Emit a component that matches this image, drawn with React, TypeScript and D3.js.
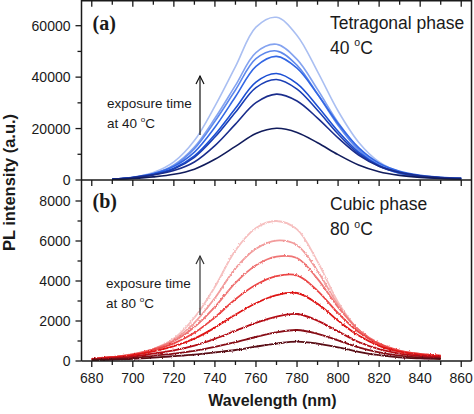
import React from 'react';
import * as d3 from 'd3';

const W = 474;
const H = 414;

// Wavelength grids (nm)
const WL_TOP = [690, 700, 710, 720, 730, 740, 750, 760, 770, 780, 790, 800, 810, 820, 830, 840, 850, 860];
const WL_BOTTOM = [680, 690, 700, 710, 720, 730, 740, 750, 760, 770, 780, 790, 800, 810, 820, 830, 840, 850];

// (a) Tetragonal phase, 40 °C — PL intensity, lightest (longest exposure) to darkest
const tet1 = [260, 960, 2880, 7030, 15340, 28760, 44090, 59430, 63260, 56230, 42170, 26840, 14700, 7030, 3200, 1600, 830, 510];
const tet2 = [210, 800, 2400, 5860, 12790, 23990, 36780, 49570, 52770, 46900, 35180, 22390, 12260, 5860, 2670, 1330, 690, 430];
const tet3 = [200, 760, 2280, 5580, 12170, 22820, 34980, 47150, 50190, 44620, 33460, 21290, 11660, 5580, 2540, 1270, 660, 410];
const tet4 = [340, 1090, 2540, 5310, 10870, 20530, 32360, 44190, 48060, 43470, 33330, 21980, 12560, 6520, 3380, 1810, 1040, 680];
const tet5 = [290, 940, 2180, 4580, 9360, 17680, 27870, 38060, 41390, 37440, 28700, 18930, 10820, 5620, 2910, 1560, 890, 580];
const tet6 = [280, 880, 2060, 4320, 8840, 16700, 26330, 35960, 39100, 35370, 27120, 17880, 10220, 5310, 2750, 1470, 850, 550];
const tet7 = [330, 1000, 2000, 3670, 7010, 13360, 21710, 30060, 33400, 30730, 24050, 16370, 9690, 5340, 3010, 1670, 1000, 670];
const tet8 = [200, 600, 1210, 2210, 4220, 8040, 13070, 18090, 20100, 18490, 14470, 9850, 5830, 3220, 1810, 1010, 600, 400];
const TOP_SERIES = [tet1, tet2, tet3, tet4, tet5, tet6, tet7, tet8];
const TOP_COLORS = ['#aabff2', '#84a3f0', '#5f89ec', '#3367e4', '#1d50d4', '#1a3eb4', '#1a2d8c', '#111c5c'];

// (b) Cubic phase, 80 °C
const cub1 = [80, 180, 320, 600, 1120, 2170, 3710, 5530, 6650, 7000, 6580, 4970, 2940, 1540, 770, 420, 280, 210];
const cub2 = [100, 190, 330, 600, 1060, 1910, 3150, 4630, 5610, 6020, 5790, 4500, 2810, 1560, 840, 480, 320, 240];
const cub3 = [110, 200, 340, 600, 1000, 1700, 2710, 3910, 4790, 5220, 5150, 4110, 2690, 1570, 880, 520, 360, 270];
const cub4 = [110, 200, 320, 560, 880, 1410, 2180, 3090, 3810, 4240, 4280, 3510, 2390, 1450, 850, 510, 350, 270];
const cub5 = [100, 180, 290, 480, 740, 1120, 1670, 2320, 2890, 3290, 3400, 2860, 2020, 1270, 760, 470, 320, 240];
const cub6 = [80, 140, 220, 370, 530, 770, 1110, 1510, 1910, 2220, 2350, 2020, 1480, 950, 590, 370, 250, 190];
const cub7 = [60, 100, 160, 260, 370, 510, 710, 940, 1200, 1430, 1550, 1360, 1030, 680, 430, 270, 180, 140];
const cub8 = [40, 70, 110, 170, 240, 320, 430, 550, 720, 870, 970, 870, 680, 460, 290, 180, 130, 100];
const BOTTOM_SERIES = [cub1, cub2, cub3, cub4, cub5, cub6, cub7, cub8];
const BOTTOM_COLORS = ['#f6c0c0', '#f29c9c', '#ef7474', '#eb4444', '#de1414', '#b40c14', '#860a14', '#580a12'];

// Ticks
const X_TICKS = [680, 700, 720, 740, 760, 780, 800, 820, 840, 860];
const X_MINOR = [690, 710, 730, 750, 770, 790, 810, 830, 850];
const TOP_Y_TICKS = [0, 20000, 40000, 60000];
const TOP_Y_MINOR = [10000, 30000, 50000];
const BOTTOM_Y_TICKS = [0, 2000, 4000, 6000, 8000];
const BOTTOM_Y_MINOR = [1000, 3000, 5000, 7000];

const LEFT = 81.5;
const RIGHT = 471.5;
const TOP_T = 0.75;
const TOP_B = 180;
const BOT_T = 181;
const BOT_B = 361;

const FONT = '"Liberation Sans", Arial, sans-serif';
const SERIF = '"Liberation Serif", "Times New Roman", serif';
const INK = '#1a1a1a';

export default function App() {
  const x = d3.scaleLinear().domain([675, 865]).range([LEFT, RIGHT]);
  const yTop = d3.scaleLinear().domain([0, 70000]).range([TOP_B, TOP_B - 70000 * (154.3 / 60000)]);
  const yBot = d3.scaleLinear().domain([0, 9000]).range([BOT_B, BOT_B - 180]);

  const lineTop = d3
    .line<number>()
    .x((_, i) => x(WL_TOP[i]))
    .y((d) => yTop(d))
    .curve(d3.curveCatmullRom.alpha(0.5));
  const lineBot = d3
    .line<number>()
    .x((_, i) => x(WL_BOTTOM[i]))
    .y((d) => yBot(d))
    .curve(d3.curveCatmullRom.alpha(0.5));

  const frameW = 1.5;

  const xTicks = (y0: number, dir: number, key: string) => (
    <g key={key}>
      {X_TICKS.map((t) => (
        <line key={'M' + t} x1={x(t)} x2={x(t)} y1={y0} y2={y0 + dir * 6} stroke={INK} strokeWidth={1.3} />
      ))}
      {X_MINOR.map((t) => (
        <line key={'m' + t} x1={x(t)} x2={x(t)} y1={y0} y2={y0 + dir * 4} stroke={INK} strokeWidth={1.3} />
      ))}
    </g>
  );

  const yTicks = (scale: d3.ScaleLinear<number, number>, major: number[], minor: number[], key: string) => (
    <g key={key}>
      {major.map((t) => (
        <g key={'M' + t}>
          <line x1={LEFT - 6} x2={LEFT} y1={scale(t)} y2={scale(t)} stroke={INK} strokeWidth={1.3} />
          <text x={LEFT - 11} y={scale(t)} dy="0.36em" textAnchor="end" fontFamily={FONT} fontSize={14} fill={INK}>
            {t}
          </text>
        </g>
      ))}
      {minor.map((t) => (
        <line key={'m' + t} x1={LEFT - 4} x2={LEFT} y1={scale(t)} y2={scale(t)} stroke={INK} strokeWidth={1.3} />
      ))}
    </g>
  );

  const degLabel = (xPos: number, yPos: number, prefix: string, size: number) => (
    <text x={xPos} y={yPos} fontFamily={FONT} fontSize={size} fill={INK}>
      {prefix}
      <tspan fontSize={size * 0.6} dy={-size * 0.42}>o</tspan>
      <tspan dy={size * 0.42}>C</tspan>
    </text>
  );

  const arrow = (xPos: number, yBottom: number, yTip: number, color: string) => (
    <g stroke={color} strokeWidth={1.2} fill="none">
      <line x1={xPos} x2={xPos} y1={yBottom} y2={yTip} />
      <polyline points={`${xPos - 4},${yTip + 8} ${xPos},${yTip} ${xPos + 4},${yTip + 8}`} />
    </g>
  );

  return (
    <svg
      width={W}
      height={H}
      viewBox={`0 0 ${W} ${H}`}
      style={{ position: 'absolute', left: 0, top: 0, background: '#fff' }}
    >
      <defs>
        <filter id="noise" filterUnits="userSpaceOnUse" x={0} y={0} width={W} height={H}>
          <feTurbulence type="fractalNoise" baseFrequency="1.1 0.6" numOctaves={1} seed={4} result="n" />
          <feDisplacementMap in="SourceGraphic" in2="n" scale={2.8} xChannelSelector="R" yChannelSelector="G" />
        </filter>
        <clipPath id="clipTop">
          <rect x={LEFT} y={0} width={RIGHT - LEFT} height={TOP_B} />
        </clipPath>
        <clipPath id="clipBot">
          <rect x={LEFT} y={BOT_T} width={RIGHT - LEFT} height={BOT_B - BOT_T} />
        </clipPath>
      </defs>
      <rect x={0} y={0} width={W} height={H} fill="#fff" />

      {/* curves (a) */}
      <g clipPath="url(#clipTop)" fill="none">
        {TOP_SERIES.map((s, i) => (
          <path key={i} d={lineTop(s) || ''} stroke={TOP_COLORS[i]} strokeWidth={1.6} />
        ))}
      </g>

      {/* curves (b) */}
      <g clipPath="url(#clipBot)">
        <g filter="url(#noise)" fill="none">
          {BOTTOM_SERIES.map((s, i) => (
            <path key={i} d={lineBot(s) || ''} stroke={BOTTOM_COLORS[i]} strokeWidth={1.8} />
          ))}
        </g>
      </g>

      {/* frames */}
      <line x1={LEFT} x2={RIGHT} y1={TOP_T} y2={TOP_T} stroke={INK} strokeWidth={frameW} />
      <line x1={LEFT} x2={RIGHT} y1={TOP_B} y2={TOP_B} stroke={INK} strokeWidth={frameW} />
      <line x1={LEFT} x2={RIGHT} y1={BOT_B} y2={BOT_B} stroke={INK} strokeWidth={frameW} />
      <line x1={LEFT} x2={LEFT} y1={0} y2={BOT_B} stroke={INK} strokeWidth={frameW} />
      <line x1={RIGHT} x2={RIGHT} y1={0} y2={BOT_B} stroke={INK} strokeWidth={frameW} />

      {xTicks(TOP_T, 1, 'xt0')}
      {xTicks(TOP_B, 1, 'xt1')}
      {xTicks(BOT_B, 1, 'xt2')}

      {X_TICKS.map((t) => (
        <text key={t} x={x(t)} y={383} textAnchor="middle" fontFamily={FONT} fontSize={14} fill={INK}>
          {t}
        </text>
      ))}

      {yTicks(yTop, TOP_Y_TICKS, TOP_Y_MINOR, 'yt')}
      {yTicks(yBot, BOTTOM_Y_TICKS, BOTTOM_Y_MINOR, 'yb')}

      {/* axis titles */}
      <text x={272.5} y={406} textAnchor="middle" fontFamily={FONT} fontWeight="bold" fontSize={16} fill={INK}>
        Wavelength (nm)
      </text>
      <text
        transform="translate(15,182.5) rotate(-90)"
        textAnchor="middle"
        fontFamily={FONT}
        fontWeight="bold"
        fontSize={16.5}
        fill={INK}
      >
        PL intensity (a.u.)
      </text>

      {/* panel labels */}
      <text x={92.5} y={30} fontFamily={SERIF} fontWeight="bold" fontSize={20} fill={INK}>
        (a)
      </text>
      <text x={92.5} y={208} fontFamily={SERIF} fontWeight="bold" fontSize={20} fill={INK}>
        (b)
      </text>

      {/* annotations (a) */}
      <text x={330} y={28.5} fontFamily={FONT} fontSize={17.5} fill={INK}>
        Tetragonal phase
      </text>
      {degLabel(330, 53.5, '40 ', 17.5)}
      <text x={107} y={107.5} fontFamily={FONT} fontSize={13.5} fill={INK}>
        exposure time
      </text>
      {degLabel(107, 127.5, 'at 40 ', 13.5)}
      {arrow(200, 135, 76, '#111')}

      {/* annotations (b) */}
      <text x={330} y={210} fontFamily={FONT} fontSize={17.5} fill={INK}>
        Cubic phase
      </text>
      {degLabel(330, 235, '80 ', 17.5)}
      <text x={106} y={287.5} fontFamily={FONT} fontSize={13.5} fill={INK}>
        exposure time
      </text>
      {degLabel(106, 307.5, 'at 80 ', 13.5)}
      {arrow(200, 315, 256, '#333')}
    </svg>
  );
}
